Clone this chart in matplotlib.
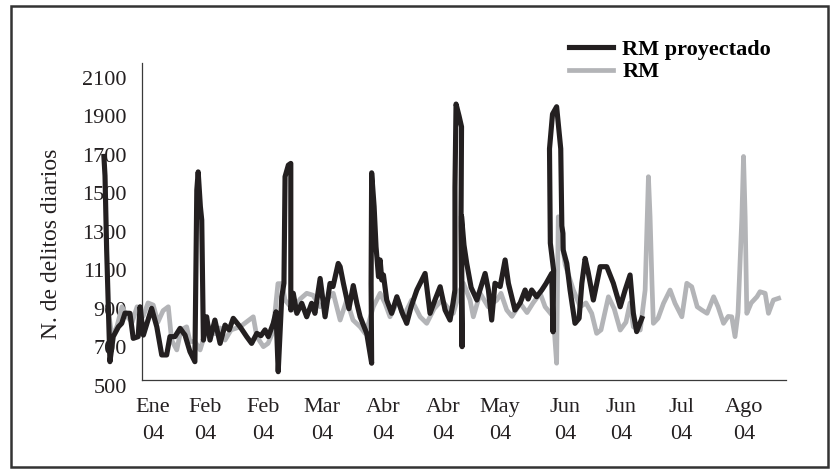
import matplotlib
matplotlib.use('Agg')
import matplotlib.pyplot as plt
import matplotlib.transforms as mtransforms
from matplotlib.patches import Rectangle

plt.rcParams['font.family'] = ['Liberation Serif', 'DejaVu Serif']

# RM proyectado (days from axis start, daily crimes) - line doubles back at spikes
proy_x = [-13.9, -13.5, -12.9, -11.7, -10.5, -8.6, -7.4, -6.2, -4.4, -3.2, -1.4, -0.7, 0.5, 3.5,
          5.4, 7.2, 9.0, 10.2, 12.0, 13.9, 15.7, 17.5, 19.3, 20.0, 20.5, 21.3, 21.8, 22.4, 23.6,
          24.8, 26.6, 28.5, 30.3, 31.8, 33.3, 35.8, 38.2, 40.0, 41.9, 43.4, 44.9, 46.1, 47.9,
          48.9, 49.7, 51.0, 51.8, 52.2, 53.4, 54.3, 54.3, 55.2, 56.5, 58.3, 60.1, 61.9, 63.1,
          65.0, 66.8, 68.6, 69.7, 71.6, 72.3, 73.5, 75.5, 77.1, 78.4, 79.6, 82.0, 83.8, 83.6,
          83.8, 84.7, 85.4, 86.3, 86.9, 87.5, 88.1, 89.3, 91.1, 93.0, 94.8, 96.6, 98.2, 100.3,
          103.3, 105.1, 106.9, 108.8, 110.6, 112.4, 113.5, 114.2, 114.2, 114.6, 115.7, 116.6,
          116.4, 116.8, 116.6, 117.5, 118.5, 120.1, 122.2, 125.2, 126.4, 127.6, 128.8, 130.7,
          132.5, 133.7, 136.1, 138.0, 139.8, 140.9, 142.2, 144.0, 145.9, 147.4, 149.5, 150.0,
          150.2, 149.0, 148.7, 149.8, 151.3, 152.8, 153.2, 153.6, 153.7, 155.0, 156.2, 158.0,
          159.5, 160.5, 161.7, 162.8, 164.7, 167.2, 169.6, 172.0, 174.5, 176.3, 178.1, 179.3,
          180.5, 182.4]
proy_y = [1660, 1560, 1175, 595, 725, 776, 794, 847, 846, 716, 725, 880, 733, 872,
          776, 630, 630, 725, 725, 768, 733, 647, 595, 1486, 1580, 1400, 1330, 707, 828,
          707, 811, 690, 785, 760, 820, 776, 725, 690, 742, 730, 760, 725, 794,
          854, 543, 932, 1002, 1555, 1615, 1624, 863, 950, 846, 898, 828, 898, 846,
          1027, 828, 1001, 985, 1105, 1088, 1001, 870, 990, 898, 828, 742, 587, 1000,
          1575, 1400, 1191, 1036, 1123, 1019, 1045, 915, 846, 932, 854, 794, 880, 967,
          1053, 846, 915, 984, 863, 811, 900, 967, 1500, 1932, 1870, 1814,
          1300, 673, 1350, 1200, 1105, 980, 915, 1053, 967, 811, 1002, 985,
          1123, 1002, 863, 900, 967, 920, 967, 932, 967, 1000, 1053, 750,
          1070, 1210, 1700, 1880, 1918, 1700, 1300, 1261, 1175, 1105, 967, 794,
          820, 1002, 1131, 1060, 915, 1088, 1088, 1002, 880, 967, 1045, 846,
          751, 820]

# RM observado
rm_x = [-12.4, -10.9, -9.1, -7.3, -5.5, -3.6, -1.8, 0.4, 2.2, 4.1, 5.8, 7.7, 9.6, 10.8, 12.7,
        14.2, 16.3, 17.5, 19.3, 21.2, 23.0, 24.8, 26.6, 28.5, 30.3, 32.5, 35.8, 38.0, 40.6,
        41.9, 44.3, 46.0, 47.8, 49.6, 51.1, 52.2, 55.2, 57.7, 60.1, 62.4, 65.0, 67.5, 69.8,
        72.3, 74.7, 77.0, 79.6, 81.4, 82.8, 84.4, 86.9, 88.7, 90.5, 93.5, 95.4, 98.4, 101.5,
        103.9, 106.6, 109.4, 111.3, 113.6, 116.1, 117.3, 119.7, 120.9, 123.4, 126.3, 129.5,
        131.0, 133.1, 135.0, 138.0, 140.5, 142.7, 145.3, 147.1, 150.1, 151.3, 151.9, 152.9,
        154.4, 157.4, 159.9, 162.0, 164.1, 165.9, 167.5, 170.2, 172.3, 174.5, 176.6, 178.1,
        179.3, 181.8, 183.6, 184.8, 185.4, 186.1, 186.6, 188.3, 190.3, 192.7, 194.5, 197.0,
        198.8, 200.6, 202.6, 204.3, 206.2, 208.6, 210.2, 212.2, 213.9, 215.2, 216.4, 217.5,
        218.9, 219.5, 220.1, 220.7, 222.3, 224.4, 225.5, 227.4, 228.6, 230.4, 232.3]
rm_y = [870, 720, 780, 880, 830, 800, 880, 830, 900, 889, 800, 860, 880, 707, 656,
        760, 776, 700, 700, 656, 740, 776, 740, 770, 707, 760, 776, 800, 828,
        725, 673, 690, 750, 1000, 1000, 915, 863, 920, 950, 940, 880, 920, 950,
        811, 915, 811, 776, 742, 800, 880, 950, 898, 828, 915, 828, 915, 828,
        794, 870, 915, 880, 846, 967, 1002, 915, 828, 950, 880, 915,
        950, 863, 830, 898, 850, 900, 950, 880, 828, 587, 1347, 1250,
        1100, 967, 880, 900, 846, 742, 760, 932, 870, 759, 800, 900,
        776, 759, 967, 1555, 1347, 1000, 794, 820, 898, 967, 898, 828,
        1002, 984, 880, 863, 846, 932, 880, 794, 830, 828, 725, 850,
        1347, 1660, 1347, 846, 900, 932, 958, 950, 846, 915, 924]

tick_pos = [4.0, 23.0, 44.2, 65.7, 88.0, 109.9, 130.7, 154.4, 174.8, 196.7, 219.7]
tick_lab = ['Ene\n04', 'Feb\n04', 'Feb\n04', 'Mar\n04', 'Abr\n04', 'Abr\n04',
            'May\n04', 'Jun\n04', 'Jun\n04', 'Jul\n04', 'Ago\n04']
y_ticks = [500, 700, 900, 1100, 1300, 1500, 1700, 1900, 2100]

fig = plt.figure(figsize=(8.3, 4.69), dpi=100)
ax = fig.add_axes([142/830, 1-380/469, 644/830, 317/469])

ax.plot(rm_x, rm_y, color='#b3b4b7', lw=3.4, label='RM', clip_on=False,
        solid_joinstyle='round', zorder=2)
ax.plot(proy_x, proy_y, color='#231f20', lw=3.7, label='RM proyectado', clip_on=False,
        solid_joinstyle='round', zorder=3)

ax.set_xlim(0, 235)
ax.set_ylim(500, 2145)
ax.set_yticks(y_ticks)
ax.set_xticks(tick_pos)
ax.set_xticklabels(tick_lab, linespacing=1.6)
ax.tick_params(axis='both', length=0, labelsize=16, colors='#231f20')
ax.tick_params(axis='x', pad=13)
ax.tick_params(axis='y', pad=11)

# y labels sit a little below their values in the original
off = mtransforms.ScaledTranslation(0, -6/100, fig.dpi_scale_trans)
for lab in ax.get_yticklabels():
    lab.set_transform(lab.get_transform() + off)

for s in ['top', 'right']:
    ax.spines[s].set_visible(False)
for s in ['left', 'bottom']:
    ax.spines[s].set_color('#3a3a3a')
    ax.spines[s].set_linewidth(0.9)

ax.set_ylabel('N. de delitos diarios', fontsize=17, color='#231f20')
ax.yaxis.set_label_coords(62/830, 1-244/469, transform=fig.transFigure)

h, l = ax.get_legend_handles_labels()
leg = fig.legend(h[::-1], l[::-1], loc='upper left', bbox_to_anchor=(549/830, 1-19/469),
                 frameon=False, handlelength=2.0, handletextpad=0.4, labelspacing=0.1,
                 prop={'weight': 'bold', 'size': 16})

fig.patches.append(Rectangle((11/830, 2/469), 817/830, 461/469, transform=fig.transFigure,
                             fill=False, edgecolor='#333333', lw=1.8))

fig.savefig('out.png', dpi=100)
